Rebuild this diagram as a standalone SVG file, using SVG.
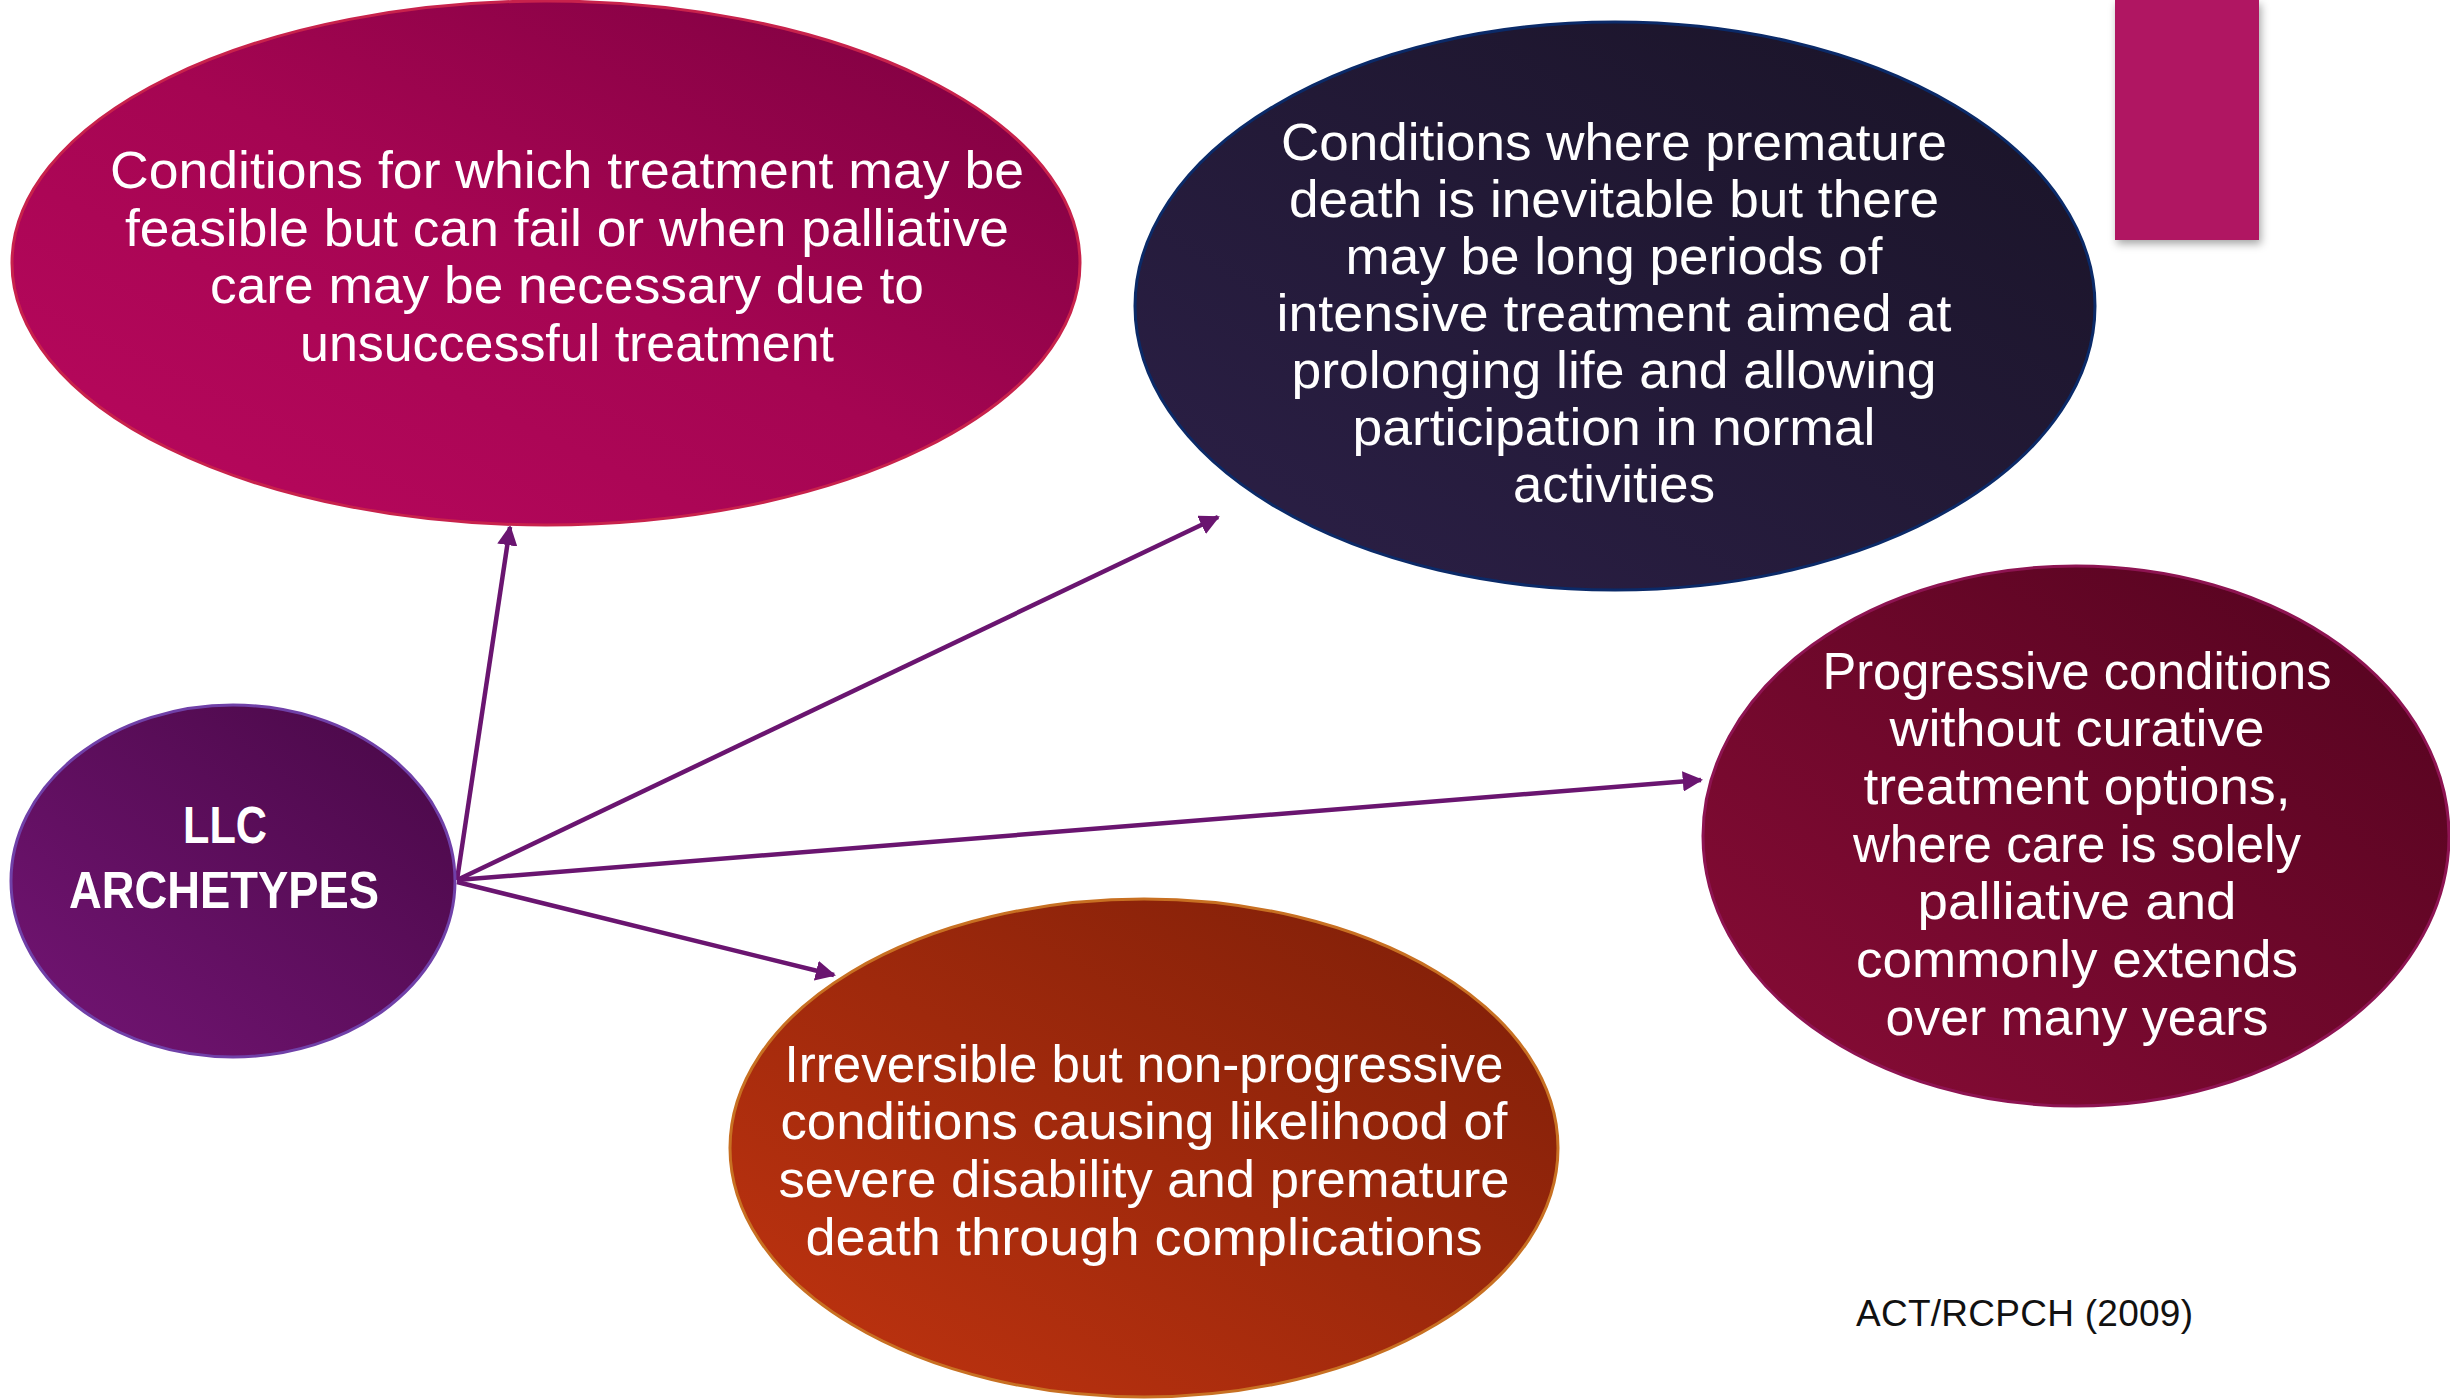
<svg xmlns="http://www.w3.org/2000/svg" width="2450" height="1400" viewBox="0 0 2450 1400">
<defs>
<linearGradient id="gMag" x1="0" y1="1" x2="1" y2="0"><stop offset="0" stop-color="#BA085E"/><stop offset="0.5" stop-color="#A50552"/><stop offset="1" stop-color="#7A003F"/></linearGradient>
<linearGradient id="gNavy" x1="0" y1="1" x2="1" y2="0"><stop offset="0" stop-color="#2C2048"/><stop offset="1" stop-color="#191326"/></linearGradient>
<linearGradient id="gWine" x1="0" y1="1" x2="1" y2="0"><stop offset="0" stop-color="#8A0C37"/><stop offset="1" stop-color="#52031E"/></linearGradient>
<linearGradient id="gRust" x1="0" y1="1" x2="1" y2="0"><stop offset="0" stop-color="#C23410"/><stop offset="1" stop-color="#7C1E08"/></linearGradient>
<linearGradient id="gPurp" x1="0" y1="1" x2="1" y2="0"><stop offset="0" stop-color="#741575"/><stop offset="1" stop-color="#480846"/></linearGradient>
<marker id="ah" viewBox="0 0 10 10" refX="9" refY="5" markerWidth="4.5" markerHeight="4.5" orient="auto" markerUnits="strokeWidth"><path d="M0,0 L10,5 L0,10 Z" fill="#6A1570"/></marker>
<filter id="sh" x="-20%" y="-20%" width="140%" height="140%"><feDropShadow dx="2" dy="4" stdDeviation="4" flood-color="#000" flood-opacity="0.35"/></filter>
</defs>
<style>
.body{font-family:"Liberation Sans",Arial,sans-serif;font-size:52px;fill:#fff;text-anchor:middle}
.title{font-family:"Liberation Sans",Arial,sans-serif;font-size:52px;font-weight:bold;fill:#fff;text-anchor:middle}
.cite{font-family:"Liberation Sans",Arial,sans-serif;font-size:37px;fill:#111}
.conn{stroke:#6A1570;stroke-width:4.5;fill:none;marker-end:url(#ah)}
</style>
<rect x="2115" y="0" width="144" height="240" fill="#B01262" filter="url(#sh)"/>
<g id="connectors">
<line class="conn" x1="457" y1="880" x2="510" y2="527"/>
<line class="conn" x1="457" y1="880" x2="1218" y2="517"/>
<line class="conn" x1="457" y1="880" x2="1701" y2="780"/>
<line class="conn" x1="457" y1="882" x2="834" y2="975"/>
</g>
<g id="node-treatment-may-fail">
<ellipse cx="546" cy="263" rx="534" ry="262" fill="url(#gMag)" stroke="#C8224C" stroke-width="3"/>
<text class="body" lengthAdjust="spacingAndGlyphs"><tspan x="567" y="188" textLength="914" lengthAdjust="spacingAndGlyphs">Conditions for which treatment may be</tspan><tspan x="567" y="245.5" textLength="884" lengthAdjust="spacingAndGlyphs">feasible but can fail or when palliative</tspan><tspan x="567" y="303" textLength="714" lengthAdjust="spacingAndGlyphs">care may be necessary due to</tspan><tspan x="567" y="360.5" textLength="534" lengthAdjust="spacingAndGlyphs">unsuccessful treatment</tspan></text>
</g>
<g id="node-premature-death-inevitable">
<ellipse cx="1615" cy="306" rx="480" ry="284" fill="url(#gNavy)" stroke="#0B2A68" stroke-width="3"/>
<text class="body"><tspan x="1614" y="160" textLength="666" lengthAdjust="spacingAndGlyphs">Conditions where premature</tspan><tspan x="1614" y="217" textLength="650" lengthAdjust="spacingAndGlyphs">death is inevitable but there</tspan><tspan x="1614" y="274" textLength="537" lengthAdjust="spacingAndGlyphs">may be long periods of</tspan><tspan x="1614" y="331" textLength="675" lengthAdjust="spacingAndGlyphs">intensive treatment aimed at</tspan><tspan x="1614" y="388" textLength="645" lengthAdjust="spacingAndGlyphs">prolonging life and allowing</tspan><tspan x="1614" y="445" textLength="523" lengthAdjust="spacingAndGlyphs">participation in normal</tspan><tspan x="1614" y="502" textLength="202" lengthAdjust="spacingAndGlyphs">activities</tspan></text>
</g>
<g id="node-progressive">
<ellipse cx="2076" cy="836" rx="373" ry="270" fill="url(#gWine)" stroke="#8E1452" stroke-width="3"/>
<text class="body"><tspan x="2077" y="689" textLength="509" lengthAdjust="spacingAndGlyphs">Progressive conditions</tspan><tspan x="2077" y="746" textLength="375" lengthAdjust="spacingAndGlyphs">without curative</tspan><tspan x="2077" y="804" textLength="427" lengthAdjust="spacingAndGlyphs">treatment options,</tspan><tspan x="2077" y="862" textLength="448" lengthAdjust="spacingAndGlyphs">where care is solely</tspan><tspan x="2077" y="919" textLength="319" lengthAdjust="spacingAndGlyphs">palliative and</tspan><tspan x="2077" y="977" textLength="442" lengthAdjust="spacingAndGlyphs">commonly extends</tspan><tspan x="2077" y="1035" textLength="383" lengthAdjust="spacingAndGlyphs">over many years</tspan></text>
</g>
<g id="node-irreversible">
<ellipse cx="1144" cy="1148" rx="414" ry="249" fill="url(#gRust)" stroke="#C87022" stroke-width="3"/>
<text class="body"><tspan x="1144" y="1082" textLength="719" lengthAdjust="spacingAndGlyphs">Irreversible but non-progressive</tspan><tspan x="1144" y="1139" textLength="727" lengthAdjust="spacingAndGlyphs">conditions causing likelihood of</tspan><tspan x="1144" y="1197" textLength="731" lengthAdjust="spacingAndGlyphs">severe disability and premature</tspan><tspan x="1144" y="1255" textLength="677" lengthAdjust="spacingAndGlyphs">death through complications</tspan></text>
</g>
<g id="node-llc">
<ellipse cx="233" cy="881" rx="222" ry="176" fill="url(#gPurp)" stroke="#7040A8" stroke-width="3"/>
<text class="title"><tspan x="225" y="843" textLength="84" lengthAdjust="spacingAndGlyphs">LLC</tspan><tspan x="224" y="908" textLength="310" lengthAdjust="spacingAndGlyphs">ARCHETYPES</tspan></text>
</g>
<text class="cite" x="1856" y="1326" textLength="337" lengthAdjust="spacing">ACT/RCPCH (2009)</text>
</svg>
